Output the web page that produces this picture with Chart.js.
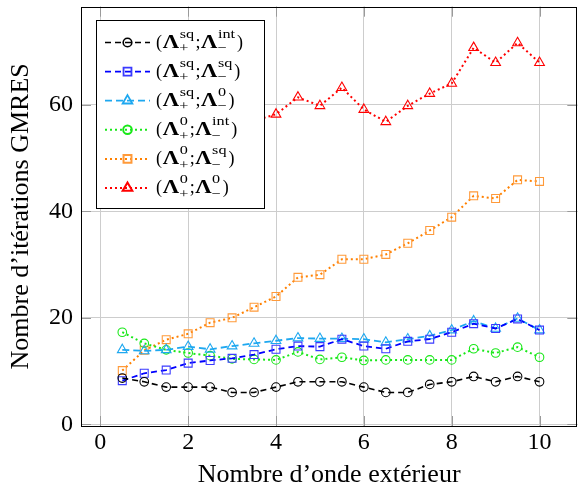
<!DOCTYPE html>
<html>
<head>
<meta charset="utf-8">
<script src="https://cdn.jsdelivr.net/npm/chart.js@4"></script>
<style>
  html, body { margin: 0; padding: 0; background: #fff; }
</style>
</head>
<body>
<canvas id="chart" width="584" height="493"></canvas>
<script>
// abscisses (nombre d'onde extérieur)
var xValues = [0.5, 1, 1.5, 2, 2.5, 3, 3.5, 4, 4.5, 5, 5.5, 6, 6.5, 7, 7.5, 8, 8.5, 9, 9.5, 10];

// itérations GMRES, une liste par couple de préconditionneurs
var itSqInt = [8.7, 8, 7, 7, 7, 6, 6, 7, 8, 8, 8, 7, 6, 6, 7.5, 8, 9, 8, 9, 8];
var itSqSq  = [8.2, 9.6, 10.2, 11.5, 12, 12.4, 13.1, 14.1, 14.7, 14.6, 16, 14.7, 14.2, 15.6, 16, 17.3, 18.9, 18, 19.8, 17.7];
var itSq0   = [14, 13.8, 14, 14.6, 14.1, 14.7, 15.2, 15.7, 16.2, 16.1, 16.1, 16, 15.4, 16, 16.6, 17.7, 19.4, 18, 19.9, 17.7];
var it0Int  = [17.3, 15.2, 14, 13.4, 12.9, 12.3, 12.2, 12.1, 13.6, 12.2, 12.6, 12, 12.1, 12.1, 12.1, 12.1, 14.2, 13.4, 14.5, 12.6];
var it0Sq   = [10.1, 13.9, 15.9, 17, 19.1, 20, 22, 24, 27.6, 28.1, 31, 31, 31.9, 34, 36.4, 38.9, 42.9, 42.4, 45.9, 45.6];
var it00    = [null, null, null, null, null, null, 57, 58.2, 61.4, 59.8, 63.2, 59.1, 56.8, 59.8, 62.1, 64, 70.7, 67.9, 71.6, 67.9];

// graduations
var xTickValues = [0, 2, 4, 6, 8, 10];
var yTickValues = [0, 20, 40, 60];

// légende : exposants de Lambda+ et Lambda-
var legendSupPlus  = ['sq', 'sq', 'sq', '0', '0', '0'];
var legendSupMinus = ['int', 'sq', '0', 'int', 'sq', '0'];

var serif = '"Liberation Serif", "DejaVu Serif", serif';

function makeDataset(data, color, markColor, dash, width, style, radius) {
    return {
        data: data.map(function (v, i) { return { x: xValues[i], y: v }; }),
        borderColor: color,
        borderWidth: width,
        borderDash: dash,
        borderCapStyle: 'butt',
        pointStyle: style,
        pointRadius: radius,
        pointHoverRadius: radius,
        pointBorderColor: markColor,
        pointBackgroundColor: 'rgba(0,0,0,0)',
        pointBorderWidth: 1.1,
        tension: 0,
        fill: false,
        spanGaps: false
    };
}

var datasets = [
    makeDataset(itSqInt, '#000000', '#000000', [6, 4], 1.6, 'circle', 4.3),
    makeDataset(itSqSq,  '#0000ff', '#3a3aff', [6, 4], 1.8, 'rect', 5.6),
    makeDataset(itSq0,   '#1ea8f0', '#1ea8f0', [7, 4], 1.8, 'triangle', 5.6),
    makeDataset(it0Int,  '#18e818', '#18e818', [2, 3], 2, 'circle', 4.3),
    makeDataset(it0Sq,   '#ff8000', '#ff9a3a', [2, 3], 2, 'rect', 5.6),
    makeDataset(it00,    '#ff0000', '#ff0000', [2, 3], 2, 'triangle', 5.6)
];

// cadre, petites graduations et légende (dessinés à la main)
var framePlugin = {
    id: 'frame',
    beforeDatasetsDraw: function (chart) {
        var ctx = chart.ctx, a = chart.chartArea;
        var xs = chart.scales.x, ys = chart.scales.y;
        ctx.save();
        ctx.strokeStyle = '#9a9a9a';
        ctx.lineWidth = 1;
        ctx.beginPath();
        xTickValues.forEach(function (v) {
            var px = Math.round(xs.getPixelForValue(v)) + 0.5;
            ctx.moveTo(px, a.bottom); ctx.lineTo(px, a.bottom - 10);
            ctx.moveTo(px, a.top); ctx.lineTo(px, a.top + 10);
        });
        yTickValues.forEach(function (v) {
            var py = Math.round(ys.getPixelForValue(v)) + 0.5;
            ctx.moveTo(a.left, py); ctx.lineTo(a.left + 10, py);
            ctx.moveTo(a.right, py); ctx.lineTo(a.right - 10, py);
        });
        ctx.stroke();
        ctx.restore();
    },
    afterDraw: function (chart) {
        var ctx = chart.ctx, a = chart.chartArea;
        ctx.save();
        ctx.strokeStyle = '#000';
        ctx.lineWidth = 1;
        ctx.strokeRect(Math.round(a.left) + 0.5, Math.round(a.top) + 0.5,
            Math.round(a.right - a.left) - 1, Math.round(a.bottom - a.top));
        drawLegend(ctx);
        ctx.restore();
    }
};

// texte étiré horizontalement (les lettres de Computer Modern sont plus larges)
function put(ctx, text, font, x, base, sx) {
    ctx.font = font;
    ctx.save();
    ctx.translate(x, base);
    ctx.scale(sx, 1);
    ctx.fillText(text, 0, 0);
    ctx.restore();
    return x + ctx.measureText(text).width * sx;
}

function supSub(ctx, sup, sub, x, base) {
    var small = '13.5px ' + serif;
    var e1 = put(ctx, sup, small, x + 0.5, base - 10, 1.2);
    var e2 = put(ctx, sub, small, x, base + 4.5, 1.2);
    return Math.max(e1, e2);
}

function drawLegend(ctx) {
    var bx = 96.5, by = 20.5, bw = 168, bh = 188;
    ctx.fillStyle = '#fff';
    ctx.fillRect(bx, by, bw, bh);
    ctx.strokeStyle = '#000';
    ctx.lineWidth = 1;
    ctx.setLineDash([]);
    ctx.strokeRect(bx, by, bw, bh);

    var mainFont = '18px ' + serif;
    var boldFont = 'bold 19px ' + serif;

    for (var i = 0; i < datasets.length; i++) {
        var ds = datasets[i];
        var y = 42.5 + i * 29.1;

        ctx.save();
        ctx.strokeStyle = ds.borderColor;
        ctx.lineWidth = ds.borderWidth;
        ctx.setLineDash(ds.borderDash);
        ctx.beginPath();
        ctx.moveTo(105, y);
        ctx.lineTo(150, y);
        ctx.stroke();
        ctx.setLineDash([]);
        ctx.strokeStyle = ds.pointBorderColor;
        ctx.fillStyle = 'rgba(0,0,0,0)';
        Chart.helpers.drawPoint(ctx, {
            pointStyle: ds.pointStyle, radius: ds.pointRadius,
            borderWidth: ds.pointBorderWidth, rotation: 0
        }, 127.5, y);
        ctx.restore();

        ctx.fillStyle = '#000';
        ctx.textAlign = 'left';
        ctx.textBaseline = 'alphabetic';
        var base = y + 5.2;
        var x = 156;
        x = put(ctx, '(', mainFont, x, base, 1);
        x = put(ctx, '\u039B', boldFont, x + 0.8, base, 1.2);
        x = supSub(ctx, legendSupPlus[i], '+', x, base);
        x = put(ctx, ';', mainFont, x + 1.5, base, 1);
        x = put(ctx, '\u039B', boldFont, x + 0.5, base, 1.2);
        x = supSub(ctx, legendSupMinus[i], '\u2212', x, base);
        put(ctx, ')', mainFont, x + 2, base, 1);
    }
}

var ctx = document.getElementById('chart').getContext('2d');
var myChart = new Chart(ctx, {
    type: 'line',
    data: { datasets: datasets },
    options: {
        responsive: false,
        animation: false,
        devicePixelRatio: 1,
        layout: { padding: { top: 6, right: 1, left: 0, bottom: 0 } },
        plugins: {
            legend: { display: false },
            tooltip: { enabled: false }
        },
        scales: {
            x: {
                type: 'linear',
                min: -0.44,
                max: 10.86,
                afterFit: function (scale) {
                    scale.height = 67;
                    scale.paddingLeft = 0;
                    scale.paddingRight = 0;
                },
                afterBuildTicks: function (scale) {
                    scale.ticks = xTickValues.map(function (v) { return { value: v }; });
                },
                grid: { color: '#cdcdcd', lineWidth: 1, drawTicks: false },
                border: { display: false },
                ticks: {
                    padding: 2,
                    color: '#000',
                    font: { family: serif, size: 24 },
                    maxRotation: 0
                },
                title: {
                    display: true,
                    text: 'Nombre d\u2019onde ext\u00e9rieur',
                    color: '#000',
                    font: { family: serif, size: 26 },
                    padding: { top: 0, bottom: 2 }
                }
            },
            y: {
                type: 'linear',
                min: -0.3,
                max: 78.4,
                afterFit: function (scale) {
                    scale.width = 81;
                    scale.paddingTop = 0;
                    scale.paddingBottom = 0;
                },
                afterBuildTicks: function (scale) {
                    scale.ticks = yTickValues.map(function (v) { return { value: v }; });
                },
                grid: { color: '#cdcdcd', lineWidth: 1, drawTicks: false },
                border: { display: false },
                ticks: {
                    padding: 8,
                    color: '#000',
                    font: { family: serif, size: 24 }
                },
                title: {
                    display: true,
                    text: 'Nombre d\u2019it\u00e9rations GMRES',
                    color: '#000',
                    font: { family: serif, size: 26 },
                    padding: { top: 6, bottom: 0 }
                }
            }
        }
    },
    plugins: [framePlugin]
});
</script>
</body>
</html>
